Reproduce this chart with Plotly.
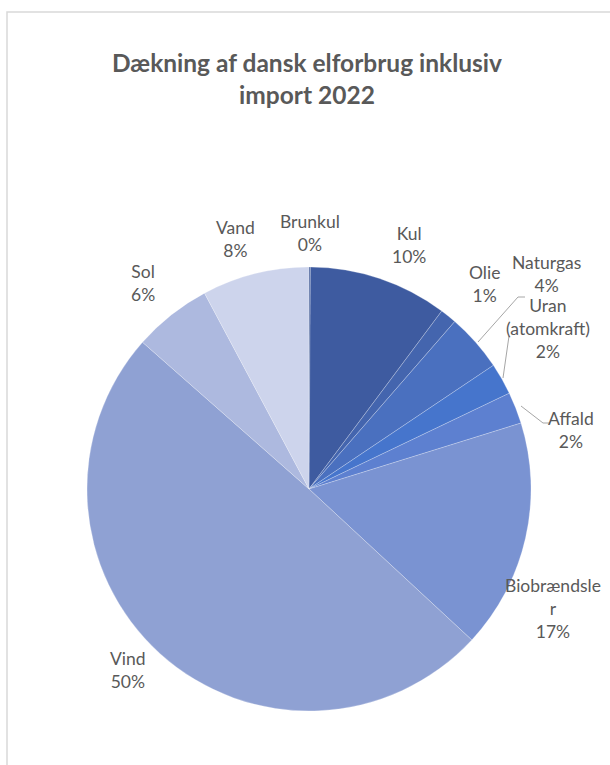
import plotly.graph_objects as go

W, H = 610, 765

# ---- data ----
categories = ["Brunkul", "Kul", "Olie", "Naturgas", "Uran<br>(atomkraft)", "Affald",
              "Biobrændsle<br>r", "Vind", "Sol", "Vand"]
values = [0.1, 10.1, 1.2, 4.2, 2.3, 2.3, 16.7, 49.6, 5.7, 7.8]
colors = ["#35508F", "#3E5BA0", "#4465AE", "#4A70BF", "#4675CC", "#5D80D0",
          "#7A93D2", "#8FA1D3", "#ADB9DF", "#CDD4EC"]

title_text = "Dækning af dansk elforbrug inklusiv<br>import 2022"

# ---- layout helpers (pixel positions of label centres) ----
label_pos = [(310, 233), (409, 245), (484, 284), (546, 274), (548, 328), (571, 430),
             (553, 608), (128, 670), (143, 283), (235, 239)]
# leader lines (pixel polylines)
leaders = [
    [(525, 297), (518, 297), (478, 342)],
    [(509, 336), (503, 378)],
    [(550, 423), (543, 423), (521, 406)],
]

cx, cy, r = 309, 489, 222


def px(x):
    return x / W


def py(y):
    return 1 - y / H


total = sum(values)
fig = go.Figure(go.Pie(
    labels=categories,
    values=values,
    sort=False,
    direction="clockwise",
    rotation=0,
    marker=dict(colors=colors, line=dict(color="rgba(255,255,255,0.3)", width=0.8)),
    textinfo="none",
    hoverinfo="label+percent",
    showlegend=False,
    domain=dict(x=[px(cx - r), px(cx + r)], y=[py(cy + r), py(cy - r)]),
))

annotations = []
for cat, v, (x, y) in zip(categories, values, label_pos):
    annotations.append(dict(
        x=px(x), y=py(y), xref="paper", yref="paper", showarrow=False,
        text=f"{cat}<br>{v / total * 100:.0f}%", xanchor="center", yanchor="middle",
        align="center", font=dict(family="Lato, Open Sans, sans-serif", size=17.5, color="#595959"),
    ))

annotations.append(dict(
    x=px(307), y=py(79), xref="paper", yref="paper", showarrow=False,
    text=f"<b>{title_text}</b>", xanchor="center", yanchor="middle", align="center",
    font=dict(family="Lato, Open Sans, sans-serif", size=24.5, color="#595959"),
))

shapes = [dict(type="rect", xref="paper", yref="paper", x0=px(7), y0=py(H + 20),
               x1=px(W + 20), y1=py(12), line=dict(color="#D9D9D9", width=1.5),
               fillcolor="rgba(0,0,0,0)", layer="below")]
for pts in leaders:
    for (x0, y0), (x1, y1) in zip(pts[:-1], pts[1:]):
        shapes.append(dict(type="line", xref="paper", yref="paper",
                           x0=px(x0), y0=py(y0), x1=px(x1), y1=py(y1),
                           line=dict(color="#A6A6A6", width=1)))

fig.update_layout(
    width=W, height=H,
    margin=dict(l=0, r=0, t=0, b=0),
    paper_bgcolor="white",
    plot_bgcolor="white",
    annotations=annotations,
    shapes=shapes,
)

fig.write_html("out.html")
